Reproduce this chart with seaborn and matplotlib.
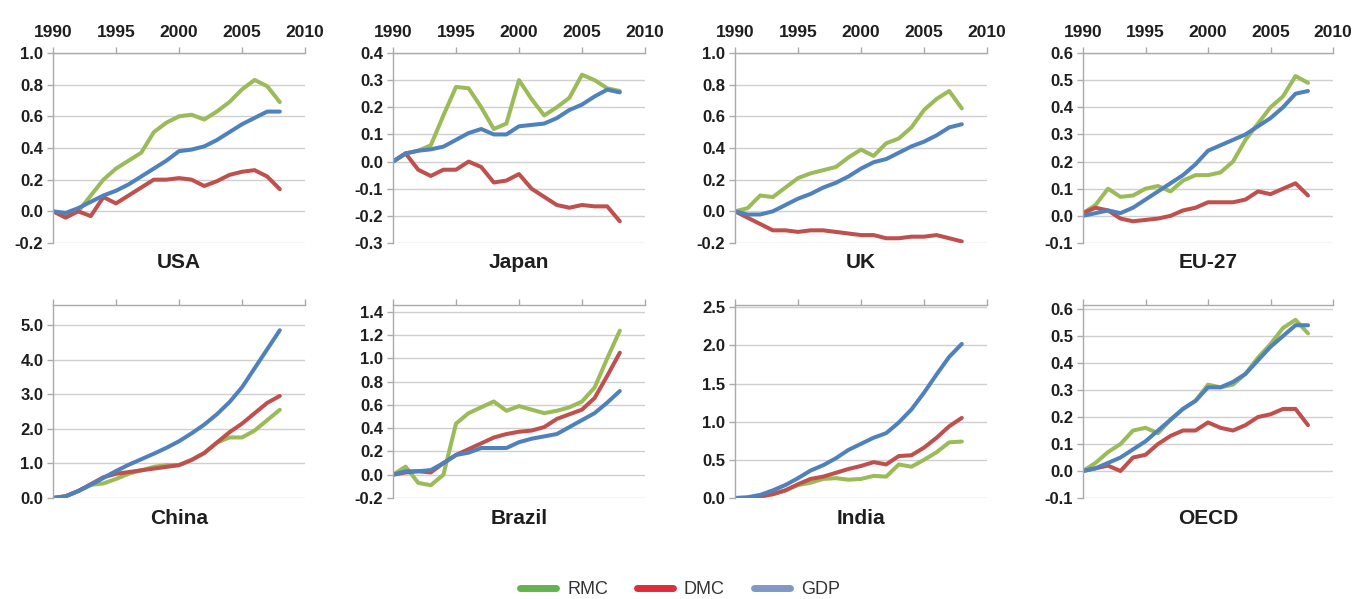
import numpy as np
import pandas as pd
import seaborn as sns
import matplotlib.pyplot as plt
from matplotlib.lines import Line2D
from matplotlib.ticker import FormatStrFormatter

years = list(range(1990, 2009))
series_names = ["RMC", "DMC", "GDP"]

usa_rmc = [0, -0.02, 0.0, 0.10, 0.20, 0.27, 0.32, 0.37, 0.50, 0.56, 0.60, 0.61, 0.58, 0.63, 0.69, 0.77, 0.83, 0.79, 0.69]
usa_dmc = [0, -0.04, 0.0, -0.03, 0.09, 0.05, 0.10, 0.15, 0.20, 0.20, 0.21, 0.20, 0.16, 0.19, 0.23, 0.25, 0.26, 0.22, 0.14]
usa_gdp = [0, -0.01, 0.02, 0.06, 0.10, 0.13, 0.17, 0.22, 0.27, 0.32, 0.38, 0.39, 0.41, 0.45, 0.50, 0.55, 0.59, 0.63, 0.63]

japan_rmc = [0, 0.03, 0.04, 0.06, 0.17, 0.275, 0.27, 0.20, 0.12, 0.14, 0.30, 0.23, 0.17, 0.20, 0.235, 0.32, 0.30, 0.27, 0.26]
japan_dmc = [0, 0.03, -0.03, -0.053, -0.03, -0.03, 0.0, -0.02, -0.077, -0.07, -0.046, -0.10, -0.13, -0.16, -0.17, -0.16, -0.165, -0.165, -0.22]
japan_gdp = [0, 0.03, 0.04, 0.045, 0.055, 0.08, 0.105, 0.12, 0.10, 0.10, 0.13, 0.135, 0.14, 0.16, 0.19, 0.21, 0.24, 0.265, 0.255]

uk_rmc = [0, 0.02, 0.10, 0.09, 0.15, 0.21, 0.24, 0.26, 0.28, 0.34, 0.39, 0.35, 0.43, 0.46, 0.53, 0.64, 0.71, 0.76, 0.65]
uk_dmc = [0, -0.04, -0.08, -0.12, -0.12, -0.13, -0.12, -0.12, -0.13, -0.14, -0.15, -0.15, -0.17, -0.17, -0.16, -0.16, -0.15, -0.17, -0.19]
uk_gdp = [0, -0.02, -0.02, 0.0, 0.04, 0.08, 0.11, 0.15, 0.18, 0.22, 0.27, 0.31, 0.33, 0.37, 0.41, 0.44, 0.48, 0.53, 0.55]

eu_rmc = [0.01, 0.04, 0.10, 0.07, 0.075, 0.10, 0.11, 0.09, 0.13, 0.15, 0.15, 0.16, 0.20, 0.28, 0.34, 0.40, 0.44, 0.515, 0.49]
eu_dmc = [0.01, 0.03, 0.02, -0.01, -0.02, -0.015, -0.01, 0.0, 0.02, 0.03, 0.05, 0.05, 0.05, 0.06, 0.09, 0.08, 0.10, 0.12, 0.075]
eu_gdp = [0.0, 0.01, 0.02, 0.01, 0.03, 0.06, 0.09, 0.12, 0.15, 0.19, 0.24, 0.26, 0.28, 0.30, 0.33, 0.36, 0.40, 0.45, 0.46]

china_rmc = [0, 0.05, 0.2, 0.38, 0.42, 0.55, 0.70, 0.80, 0.90, 0.95, 0.95, 1.10, 1.30, 1.60, 1.75, 1.75, 1.95, 2.25, 2.55]
china_dmc = [0, 0.05, 0.2, 0.40, 0.60, 0.70, 0.75, 0.80, 0.85, 0.90, 0.95, 1.10, 1.30, 1.60, 1.90, 2.15, 2.45, 2.75, 2.95]
china_gdp = [0, 0.05, 0.2, 0.38, 0.58, 0.78, 0.96, 1.12, 1.28, 1.45, 1.64, 1.87, 2.12, 2.42, 2.77, 3.20, 3.75, 4.30, 4.85]

brazil_rmc = [0, 0.07, -0.07, -0.09, 0.0, 0.44, 0.53, 0.58, 0.63, 0.55, 0.59, 0.56, 0.53, 0.55, 0.58, 0.63, 0.75, 1.00, 1.24]
brazil_dmc = [0, 0.02, 0.03, 0.02, 0.10, 0.17, 0.22, 0.27, 0.32, 0.35, 0.37, 0.38, 0.41, 0.48, 0.52, 0.56, 0.66, 0.85, 1.05]
brazil_gdp = [0, 0.03, 0.03, 0.04, 0.10, 0.17, 0.19, 0.23, 0.23, 0.23, 0.28, 0.31, 0.33, 0.35, 0.41, 0.47, 0.53, 0.62, 0.72]

india_rmc = [0, 0.0, 0.02, 0.05, 0.10, 0.17, 0.20, 0.25, 0.26, 0.24, 0.25, 0.29, 0.28, 0.44, 0.41, 0.50, 0.60, 0.73, 0.74]
india_dmc = [0, 0.0, 0.02, 0.05, 0.10, 0.18, 0.25, 0.28, 0.33, 0.38, 0.42, 0.47, 0.44, 0.55, 0.56, 0.66, 0.79, 0.94, 1.05]
india_gdp = [0, 0.01, 0.04, 0.10, 0.17, 0.26, 0.36, 0.43, 0.52, 0.63, 0.71, 0.79, 0.85, 0.99, 1.16, 1.38, 1.62, 1.85, 2.02]

oecd_rmc = [0, 0.03, 0.07, 0.10, 0.15, 0.16, 0.14, 0.19, 0.23, 0.26, 0.32, 0.31, 0.32, 0.36, 0.42, 0.47, 0.53, 0.56, 0.51]
oecd_dmc = [0, 0.01, 0.02, 0.0, 0.05, 0.06, 0.10, 0.13, 0.15, 0.15, 0.18, 0.16, 0.15, 0.17, 0.20, 0.21, 0.23, 0.23, 0.17]
oecd_gdp = [0, 0.01, 0.03, 0.05, 0.08, 0.11, 0.15, 0.19, 0.23, 0.26, 0.31, 0.31, 0.33, 0.36, 0.41, 0.46, 0.50, 0.54, 0.54]

regions = ["USA", "Japan", "UK", "EU-27", "China", "Brazil", "India", "OECD"]
region_series = {
    "USA": (usa_rmc, usa_dmc, usa_gdp),
    "Japan": (japan_rmc, japan_dmc, japan_gdp),
    "UK": (uk_rmc, uk_dmc, uk_gdp),
    "EU-27": (eu_rmc, eu_dmc, eu_gdp),
    "China": (china_rmc, china_dmc, china_gdp),
    "Brazil": (brazil_rmc, brazil_dmc, brazil_gdp),
    "India": (india_rmc, india_dmc, india_gdp),
    "OECD": (oecd_rmc, oecd_dmc, oecd_gdp),
}

# y-axis range and tick step per panel
y_ranges = {
    "USA": (-0.2, 1.0, 0.2), "Japan": (-0.3, 0.4, 0.1), "UK": (-0.2, 1.0, 0.2), "EU-27": (-0.1, 0.6, 0.1),
    "China": (0.0, 5.58, 1.0), "Brazil": (-0.2, 1.46, 0.2), "India": (0.0, 2.53, 0.5), "OECD": (-0.1, 0.615, 0.1),
}
y_max_tick = {"USA": 1.0, "Japan": 0.4, "UK": 1.0, "EU-27": 0.6,
              "China": 5.0, "Brazil": 1.4, "India": 2.5, "OECD": 0.6}

rows = []
for r in regions:
    for name, vals in zip(series_names, region_series[r]):
        for y, v in zip(years, vals):
            rows.append({"region": r, "series": name, "year": y, "value": v})
df = pd.DataFrame(rows)

palette = {"RMC": "#9BBB59", "DMC": "#C0504D", "GDP": "#4F81BD"}
legend_colors = {"RMC": "#62B450", "DMC": "#DE2D3E", "GDP": "#7F98C6"}

sns.set_style("white")
plt.rcParams["font.family"] = ["Liberation Sans", "DejaVu Sans"]

W, H = 1359, 599
fig = plt.figure(figsize=(W / 100, H / 100), dpi=100)

col_left = [53, 393, 735, 1083]
col_width = [252, 252, 252, 250]
row_top = [53, 305]
row_bottom = [243, 498]

grid_c = "#CFCFCF"
axis_c = "#AAAAAA"
text_c = "#1E1E1E"

for i, r in enumerate(regions):
    row, col = divmod(i, 4)
    x0 = col_left[col] / W
    w = col_width[col] / W
    y0 = 1 - row_bottom[row] / H
    h = (row_bottom[row] - row_top[row]) / H
    ax = fig.add_axes([x0, y0, w, h])
    sub = df[df["region"] == r]
    sns.lineplot(data=sub, x="year", y="value", hue="series", hue_order=series_names,
                 palette=palette, linewidth=2.9, legend=False, ax=ax,
                 solid_capstyle="round", solid_joinstyle="round")
    lo, hi, step = y_ranges[r]
    ax.set_xlim(1990, 2010)
    ax.set_ylim(lo, hi)
    ticks = np.arange(lo, y_max_tick[r] + step / 2, step)
    ax.set_yticks(ticks)
    ax.yaxis.set_major_formatter(FormatStrFormatter("%.1f"))
    ax.set_xticks([1990, 1995, 2000, 2005, 2010])
    ax.xaxis.tick_top()
    if row == 1:
        ax.set_xticklabels([])
    ax.set_xlabel("")
    ax.set_ylabel("")
    ax.grid(axis="y", color=grid_c, linewidth=1.0)
    ax.set_axisbelow(True)
    for side in ("bottom", "right"):
        ax.spines[side].set_visible(False)
    for side in ("left", "top"):
        ax.spines[side].set_visible(True)
        ax.spines[side].set_color(axis_c)
        ax.spines[side].set_linewidth(1.0)
    ax.tick_params(axis="y", left=True, direction="out", length=4, width=1, color=axis_c,
                   labelsize=12, labelcolor=text_c, pad=3)
    ax.tick_params(axis="x", top=True, bottom=False, direction="out", length=4, width=1, color=axis_c,
                   labelsize=12.5, labelcolor=text_c, pad=5)
    for lab in ax.get_yticklabels() + ax.get_xticklabels():
        lab.set_fontweight("bold")
    ax.text(0.5, -20 / (row_bottom[row] - row_top[row]), r, transform=ax.transAxes,
            ha="center", va="center", fontsize=15, fontweight="bold", color=text_c)

handles = [Line2D([0], [0], color=legend_colors[s], linewidth=5, solid_capstyle="round") for s in series_names]
fig.legend(handles, series_names, loc="center", bbox_to_anchor=(680 / W, 1 - 590 / H), ncol=3,
           frameon=False, fontsize=13, handlelength=2.0, handletextpad=0.6, columnspacing=1.6,
           labelcolor="#333333")

fig.savefig("out.png", dpi=100, facecolor="white")
